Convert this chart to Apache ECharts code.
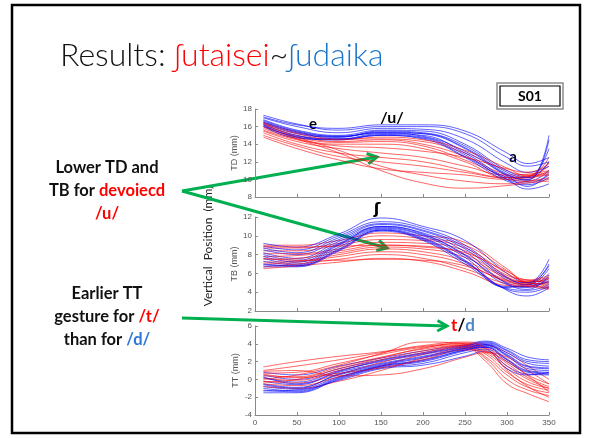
<!DOCTYPE html>
<html>
<head>
<meta charset="utf-8">
<script src="https://cdn.jsdelivr.net/npm/echarts@6/dist/echarts.min.js"></script>
<style>
html, body { margin: 0; padding: 0; background: #fff; }
#chart { width: 592px; height: 438px; }
</style>
</head>
<body>
<div id="chart"></div>
<script>
// sample times (ms)
const xTongue = [10, 50, 100, 150, 200, 250, 300, 325, 350]
const xTip = [10, 50, 100, 150, 200, 250, 275, 300, 325, 350]

// TD (mm) - tongue dorsum
const tdBlue = [
  [17.3, 16.3, 15.6, 16.0, 16.0, 15.2, 12.5, 11.5, 12.0],
  [17.0, 16.0, 15.3, 15.8, 15.7, 14.6, 11.8, 10.8, 11.5],
  [16.8, 15.6, 15.0, 15.6, 15.5, 14.0, 11.0, 10.3, 13.5],
  [16.5, 15.3, 14.8, 15.4, 15.2, 13.5, 10.5, 10.0, 15.0],
  [16.3, 15.0, 14.6, 15.2, 15.0, 13.0, 10.2, 9.8, 11.0],
  [16.2, 14.8, 14.5, 15.1, 14.8, 12.8, 10.0, 9.6, 10.5],
  [16.0, 14.7, 14.5, 15.0, 14.6, 12.5, 9.8, 9.4, 10.2],
  [16.4, 15.2, 14.8, 15.5, 15.3, 13.8, 10.8, 10.2, 12.0],
  [16.6, 15.4, 14.9, 15.3, 14.9, 13.2, 10.4, 9.2, 10.8],
  [16.1, 14.9, 14.6, 15.0, 14.7, 12.6, 10.0, 8.9, 9.5],
  [17.1, 16.2, 15.8, 16.2, 16.2, 15.5, 13.0, 11.8, 12.5],
  [16.7, 15.5, 14.9, 15.3, 15.2, 13.6, 10.6, 9.9, 14.5]
]
const tdRed = [
  [16.5, 15.4, 14.6, 14.6, 14.3, 13.0, 11.0, 10.5, 11.5],
  [16.2, 15.0, 14.3, 14.5, 14.0, 12.6, 10.5, 10.2, 11.0],
  [16.0, 14.8, 14.2, 14.3, 13.8, 12.2, 10.3, 10.0, 12.0],
  [15.8, 14.6, 14.0, 14.0, 13.5, 12.0, 10.2, 10.3, 12.5],
  [15.5, 14.3, 13.5, 13.0, 12.5, 11.5, 10.5, 10.6, 11.0],
  [15.3, 14.0, 13.0, 12.5, 12.0, 11.0, 10.0, 9.8, 10.0],
  [15.0, 13.8, 12.6, 12.0, 11.5, 10.8, 10.2, 10.4, 10.8],
  [14.8, 13.5, 12.2, 11.2, 10.8, 10.5, 10.0, 10.2, 10.5],
  [16.3, 14.8, 13.3, 11.5, 10.5, 9.8, 9.5, 9.8, 10.2],
  [16.0, 14.6, 13.0, 11.0, 9.6, 9.0, 9.3, 9.6, 9.8],
  [15.6, 14.5, 13.8, 13.6, 13.2, 12.5, 11.2, 10.8, 11.8],
  [16.4, 15.2, 14.5, 14.8, 14.5, 13.3, 11.3, 10.4, 10.6]
]

// TB (mm) - tongue body
const tbBlue = [
  [9.2, 8.8, 10.2, 11.9, 11.0, 9.5, 6.0, 5.0, 7.5],
  [8.9, 8.5, 10.0, 11.5, 10.8, 9.0, 5.6, 4.8, 7.0],
  [8.5, 8.0, 9.6, 11.2, 10.5, 8.6, 5.3, 4.8, 6.5],
  [8.2, 7.6, 9.4, 11.0, 10.3, 8.3, 5.0, 4.6, 6.0],
  [8.0, 7.4, 9.2, 10.9, 10.1, 8.0, 4.8, 4.5, 5.5],
  [7.6, 7.0, 9.0, 10.8, 10.0, 7.7, 4.6, 4.6, 5.2],
  [7.3, 6.9, 8.8, 10.7, 9.8, 7.4, 4.5, 4.8, 5.0],
  [7.0, 6.8, 8.6, 10.6, 9.6, 7.2, 4.2, 3.6, 4.5],
  [6.7, 6.7, 8.4, 10.5, 9.5, 7.0, 4.4, 4.2, 4.8],
  [8.7, 8.2, 9.8, 11.3, 10.6, 8.8, 5.5, 5.0, 6.8],
  [7.8, 7.2, 9.1, 11.0, 10.2, 7.9, 4.9, 4.3, 5.8],
  [6.9, 6.8, 8.5, 10.6, 9.7, 7.3, 4.3, 4.0, 4.6]
]
const tbRed = [
  [9.0, 9.0, 9.5, 10.3, 10.0, 9.3, 6.5, 5.0, 5.5],
  [8.7, 8.7, 9.2, 10.0, 9.7, 9.0, 6.3, 5.1, 5.2],
  [8.4, 8.4, 9.0, 9.6, 9.5, 8.7, 6.0, 5.2, 5.6],
  [8.1, 8.1, 8.6, 9.3, 9.2, 8.4, 5.8, 5.3, 5.0],
  [7.8, 7.9, 8.4, 9.0, 8.9, 8.0, 5.6, 5.0, 4.8],
  [7.5, 7.6, 8.2, 8.8, 8.6, 7.7, 5.5, 5.1, 5.4],
  [7.2, 7.3, 8.0, 8.6, 8.3, 7.3, 5.3, 5.0, 4.6],
  [7.0, 7.2, 7.8, 8.3, 8.0, 7.0, 5.1, 4.8, 4.4],
  [6.7, 7.0, 7.5, 8.0, 7.6, 6.5, 4.9, 4.7, 4.5],
  [6.5, 6.8, 7.2, 7.6, 7.3, 6.2, 4.7, 4.6, 4.3],
  [8.9, 8.8, 8.9, 9.0, 8.8, 8.2, 6.2, 5.3, 5.8],
  [7.6, 7.4, 7.4, 7.5, 7.4, 6.8, 5.2, 4.9, 5.0]
]

// TT (mm) - tongue tip
const ttBlue = [
  [0.8, 0.5, 1.5, 2.4, 3.2, 3.9, 4.3, 3.5, 2.5, 2.2],
  [0.5, 0.0, 1.2, 2.2, 3.0, 3.8, 4.1, 3.2, 2.0, 1.8],
  [0.2, -0.3, 1.0, 2.0, 2.8, 3.6, 4.0, 3.0, 1.8, 1.5],
  [-0.2, -0.6, 0.8, 1.8, 2.6, 3.5, 3.9, 2.8, 1.5, 1.3],
  [-0.5, -0.9, 0.5, 1.6, 2.4, 3.4, 3.8, 2.6, 1.2, 1.0],
  [-0.8, -1.1, 0.3, 1.5, 2.2, 3.3, 3.7, 2.3, 1.0, 0.8],
  [-1.2, -1.4, 0.1, 1.4, 2.0, 3.2, 3.6, 2.0, 0.8, 0.6],
  [-1.5, -1.5, 0.0, 1.3, 1.8, 3.0, 3.4, 1.5, 0.6, 0.5],
  [-1.3, -1.2, -0.1, 1.2, 1.6, 2.6, 3.2, 1.2, 0.5, 0.8],
  [0.3, -0.5, 0.9, 2.1, 2.9, 3.7, 4.2, 3.3, 2.2, 2.0],
  [-0.6, -1.0, 0.6, 1.7, 2.5, 3.5, 3.9, 2.7, 1.4, 1.2],
  [-1.0, -1.3, 0.2, 1.5, 2.1, 3.3, 3.6, 2.2, 0.9, 0.7]
]
const ttRed = [
  [1.4, 2.0, 2.6, 3.1, 3.8, 4.2, 3.9, 3.0, 1.5, 0.0],
  [1.0, 1.5, 2.2, 3.0, 3.7, 4.0, 3.6, 2.2, 0.5, -0.5],
  [0.7, 0.8, 1.8, 2.8, 3.6, 3.9, 3.4, 1.8, 0.2, -0.8],
  [0.4, 0.3, 1.4, 2.5, 3.4, 3.8, 3.0, 1.2, -0.3, -1.0],
  [0.1, -0.1, 1.0, 2.2, 3.2, 3.8, 2.8, 0.8, -0.6, -1.2],
  [-0.2, -0.4, 0.6, 1.9, 3.0, 3.7, 2.5, 0.5, -0.9, -1.5],
  [-0.5, -0.7, 0.3, 1.5, 2.8, 3.6, 2.3, 0.0, -1.2, -1.8],
  [-0.8, -1.0, -0.2, 1.0, 2.4, 3.5, 2.0, -0.5, -1.6, -2.5],
  [0.9, 1.0, 0.4, 0.5, 1.2, 2.5, 3.0, 2.5, 1.0, -0.5],
  [0.0, 0.5, 1.6, 2.9, 4.2, 4.0, 3.2, 1.5, 0.0, -1.0],
  [0.6, 0.2, 0.7, 1.3, 2.2, 3.3, 3.1, 2.0, 0.4, -1.4],
  [-0.3, 0.0, 1.2, 2.4, 3.5, 4.1, 3.5, 1.0, -0.8, -2.0]
]

const panelNames = ['TD (mm)', 'TB (mm)', 'TT (mm)']
const panelMin = [8, 2, -4]
const panelMax = [18, 12, 6]

const RED = 'rgba(255,0,0,0.6)'
const BLUE = 'rgba(0,0,255,0.62)'
const GREEN = '#00b050'
const AXIS = '#8a8a8a'

function traces(xs, rows, color, gi) {
  return rows.map(r => ({
    type: 'line',
    xAxisIndex: gi,
    yAxisIndex: gi,
    smooth: 0.45,
    symbol: 'none',
    silent: true,
    data: r.map((v, i) => [xs[i], v]),
    lineStyle: { color: color, width: 1 }
  }))
}

// mix the two groups so neither is always on top
function mixed(xs, red, blue, gi) {
  let a = traces(xs, red, RED, gi), b = traces(xs, blue, BLUE, gi), out = []
  for (let i = 0; i < Math.max(a.length, b.length); i++) {
    if (a[i]) out.push(a[i])
    if (b[i]) out.push(b[i])
  }
  return out
}

function arrow(x1, y1, x2, y2) {
  let ang = Math.atan2(y2 - y1, x2 - x1), L = 11, s = 0.5
  let p1 = [x2 - L * Math.cos(ang - s), y2 - L * Math.sin(ang - s)]
  let p2 = [x2 - L * Math.cos(ang + s), y2 - L * Math.sin(ang + s)]
  return [
    { type: 'line', shape: { x1: x1, y1: y1, x2: x2, y2: y2 }, style: { stroke: GREEN, lineWidth: 3 } },
    { type: 'polyline', shape: { points: [p1, [x2, y2], p2] }, style: { stroke: GREEN, lineWidth: 3, fill: null } }
  ]
}

let chart = echarts.init(document.getElementById('chart'), null, { renderer: 'canvas' })

const grids = [
  { left: 255, width: 294, top: 109, height: 88 },
  { left: 255, width: 294, top: 217, height: 94 },
  { left: 255, width: 294, top: 326, height: 89 }
]

const boldFont = 'Lato, "Open Sans", sans-serif'
const lightFont = 'Lato, sans-serif'

function rich(size, weight, lh) {
  let base = { fontSize: size, fontWeight: weight, fontFamily: weight === 'bold' ? boldFont : lightFont, lineHeight: lh }
  return {
    k: Object.assign({ fill: '#111' }, base),
    r: Object.assign({ fill: '#ff0000' }, base),
    b: Object.assign({ fill: '#1b75c8' }, base)
  }
}

let graphic = [
  { type: 'rect', shape: { x: 12, y: 5, width: 568, height: 428 }, style: { stroke: '#000', lineWidth: 2.5, fill: null } },
  {
    type: 'text', x: 60, y: 56,
    style: { text: '{k|Results: }{r|ʃutaisei}{k|~}{b|ʃudaika}', verticalAlign: 'middle', rich: rich(32, 300, 36) }
  },
  { type: 'rect', shape: { x: 497, y: 83, width: 66, height: 26 }, style: { stroke: '#8c8c8c', lineWidth: 1.5, fill: '#fff' } },
  { type: 'rect', shape: { x: 500, y: 86, width: 60, height: 20 }, style: { stroke: '#000', lineWidth: 1.2, fill: null } },
  { type: 'text', x: 530, y: 96, style: { text: 'S01', fontSize: 14, fontWeight: 'bold', fontFamily: boldFont, fill: '#000', align: 'center', verticalAlign: 'middle' } },
  {
    type: 'text', x: 107, y: 191,
    style: { text: '{k|Lower TD and}\n{k|TB for }{r|devoiecd}\n{r|/u/}', align: 'center', verticalAlign: 'middle', rich: rich(16.5, 'bold', 23) }
  },
  {
    type: 'text', x: 107, y: 317,
    style: { text: '{k|Earlier TT}\n{k|gesture for }{r|/t/}\n{k|than for }{b|/d/}', align: 'center', verticalAlign: 'middle', rich: Object.assign(rich(16.5, 'bold', 23), { b: { fill: '#2e75d6', fontSize: 16.5, fontWeight: 'bold', fontFamily: boldFont, lineHeight: 23 } }) }
  },
  { type: 'text', x: 208, y: 246, rotation: Math.PI / 2, style: { text: 'Vertical  Position  (mm)', fontSize: 12, fontFamily: lightFont, fill: '#222', align: 'center', verticalAlign: 'middle' } },
  { type: 'text', x: 313, y: 124, style: { text: 'e', fontSize: 15, fontWeight: 'bold', fontFamily: boldFont, fill: '#000', align: 'center', verticalAlign: 'middle' } },
  { type: 'text', x: 392, y: 118, style: { text: '/u/', fontSize: 16, fontWeight: 'bold', fontFamily: boldFont, fill: '#000', align: 'center', verticalAlign: 'middle' } },
  { type: 'text', x: 513, y: 157, style: { text: 'a', fontSize: 15, fontWeight: 'bold', fontFamily: boldFont, fill: '#000', align: 'center', verticalAlign: 'middle' } },
  { type: 'text', x: 377, y: 210, style: { text: 'ʃ', fontSize: 16, fontWeight: 'bold', fontFamily: '"DejaVu Sans", sans-serif', fill: '#000', align: 'center', verticalAlign: 'middle' } },
  {
    type: 'text', x: 463, y: 326,
    style: {
      text: '{r|t}{k|/}{b|d}', align: 'center', verticalAlign: 'middle',
      rich: {
        r: { fill: '#ff0000', fontSize: 17, fontWeight: 'bold', fontFamily: boldFont },
        k: { fill: '#000', fontSize: 17, fontWeight: 'bold', fontFamily: boldFont },
        b: { fill: '#4a86c8', fontSize: 17, fontWeight: 'bold', fontFamily: boldFont }
      }
    }
  }
].concat(arrow(182, 191, 377, 157), arrow(182, 191, 387, 248), arrow(182, 318, 447, 326))

let option = {
  animation: false,
  backgroundColor: '#fff',
  grid: grids,
  xAxis: grids.map((g, i) => ({
    type: 'value', gridIndex: i, min: 0, max: 350, interval: 50,
    axisLine: { onZero: false, lineStyle: { color: AXIS, width: 1 } },
    axisTick: { inside: true, length: 3, lineStyle: { color: AXIS } },
    axisLabel: { show: i === 2, fontSize: 8, color: '#555', margin: 4, fontFamily: 'Liberation Sans, sans-serif' },
    splitLine: { show: false }
  })),
  yAxis: grids.map((g, i) => ({
    type: 'value', gridIndex: i, min: panelMin[i], max: panelMax[i], interval: 2,
    name: panelNames[i], nameLocation: 'middle', nameGap: 15, nameRotate: 90,
    nameTextStyle: { fontSize: 9, color: '#555', fontFamily: 'Liberation Sans, sans-serif' },
    axisLine: { show: true, onZero: false, lineStyle: { color: AXIS, width: 1 } },
    axisTick: { show: true, inside: true, length: 3, lineStyle: { color: AXIS } },
    axisLabel: { fontSize: 8, color: '#555', margin: 3, fontFamily: 'Liberation Sans, sans-serif' },
    splitLine: { show: false }
  })),
  series: [].concat(
    mixed(xTongue, tdRed, tdBlue, 0),
    mixed(xTongue, tbRed, tbBlue, 1),
    mixed(xTip, ttRed, ttBlue, 2)
  ),
  graphic: graphic
}

chart.setOption(option)
</script>
</body>
</html>
